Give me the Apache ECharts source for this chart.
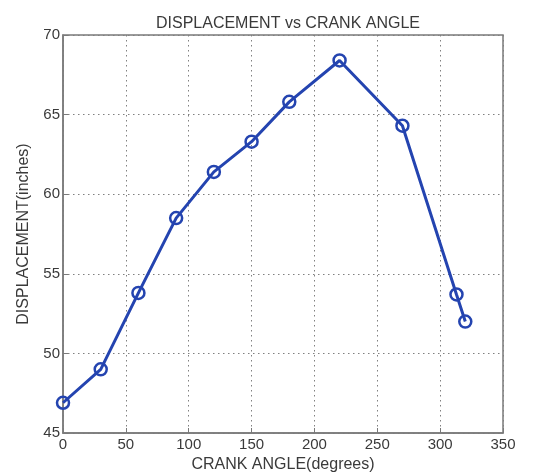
<!DOCTYPE html>
<html>
<head>
<meta charset="utf-8">
<script src="https://cdn.jsdelivr.net/npm/echarts@6/dist/echarts.min.js"></script>
<style>
  html, body { margin: 0; padding: 0; background: #fff; }
  #chart { width: 551px; height: 474px; }
</style>
</head>
<body>
<div id="chart"></div>
<script>
// Crank angle (degrees) and piston displacement (inches)
const crankAngle = [0, 30, 60, 90, 120, 150, 180, 220, 270, 313, 320];
const displacement = [46.9, 49.0, 53.8, 58.5, 61.4, 63.3, 65.8, 68.4, 64.3, 53.7, 52.0];

const xTicks = [0, 50, 100, 150, 200, 250, 300, 350];
const yTicks = [45, 50, 55, 60, 65, 70];

const points = crankAngle.map((a, i) => [a, displacement[i]]);

const font = 'Liberation Sans, Arial, sans-serif';
const lineBlue = '#2444b0';
const frame = '#7a7a7a';
const textColor = '#3a3a3a';

const chart = echarts.init(document.getElementById('chart'), null, { renderer: 'canvas' });
chart.setOption({
  animation: false,
  backgroundColor: '#ffffff',
  title: {
    text: 'DISPLACEMENT vs CRANK ANGLE',
    left: 283,
    textAlign: 'center',
    top: 11,
    textStyle: { fontFamily: font, fontSize: 16, fontWeight: 'normal', color: textColor }
  },
  grid: {
    left: 63, right: 48, top: 35, bottom: 41,
    outerBoundsMode: 'none',
    containLabel: false,
    show: true, borderColor: frame, borderWidth: 1.5, backgroundColor: '#fff'
  },
  xAxis: {
    type: 'value',
    min: xTicks[0], max: xTicks[xTicks.length - 1], interval: 50,
    name: 'CRANK ANGLE(degrees)',
    nameLocation: 'middle',
    nameGap: 23,
    nameTextStyle: { fontFamily: font, fontSize: 16, color: textColor },
    axisLine: { show: true, lineStyle: { color: frame, width: 1.5 } },
    axisTick: { show: true, inside: true, length: 5, lineStyle: { color: frame } },
    axisLabel: { fontFamily: font, fontSize: 15, color: textColor, margin: 4 },
    splitLine: { show: true, lineStyle: { color: '#808080', type: [1.5, 3.5], width: 1 } }
  },
  yAxis: {
    type: 'value',
    min: yTicks[0], max: yTicks[yTicks.length - 1], interval: 5,
    name: 'DISPLACEMENT(inches)',
    nameLocation: 'middle',
    nameGap: 31,
    nameTextStyle: { fontFamily: font, fontSize: 16, color: textColor },
    axisLine: { show: true, lineStyle: { color: frame, width: 1.5 } },
    axisTick: { show: true, inside: true, length: 5, lineStyle: { color: frame } },
    axisLabel: { fontFamily: font, fontSize: 15, color: textColor, margin: 3 },
    splitLine: { show: true, lineStyle: { color: '#808080', type: [1.5, 3.5], width: 1 } }
  },
  series: [{
    type: 'line',
    data: points,
    symbol: 'circle',
    symbolSize: 12,
    showAllSymbol: true,
    lineStyle: { color: lineBlue, width: 3 },
    itemStyle: { color: 'rgba(0,0,0,0)', borderColor: lineBlue, borderWidth: 2.5 },
    emphasis: { disabled: true },
    z: 3
  }]
});
</script>
</body>
</html>
